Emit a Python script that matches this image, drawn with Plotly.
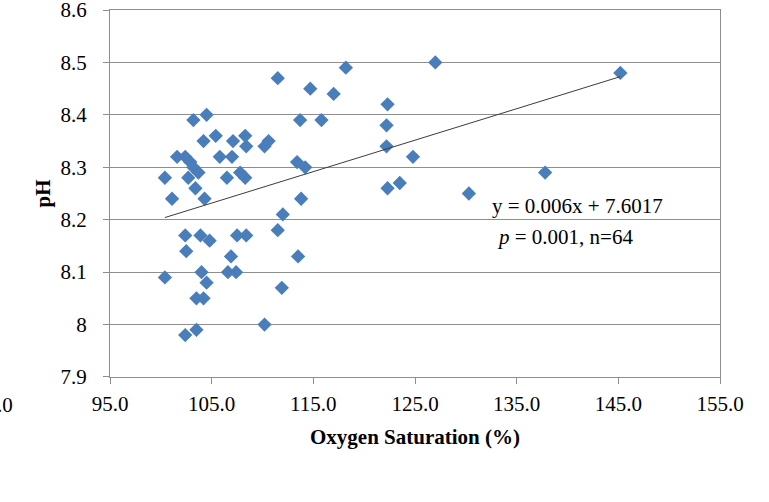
import plotly.graph_objects as go
import numpy as np

# Oxygen saturation (%) and pH for 64 samples
oxygen_sat = [
    127.0, 145.2, 122.3, 122.2, 122.2, 124.8, 122.3, 123.5, 137.8, 130.3,
    118.2, 111.5, 114.7, 117.0, 113.7, 115.8, 110.6, 110.2, 113.4, 114.2,
    113.8, 112.0, 111.5, 113.5, 111.9, 110.2,
    103.2, 104.5, 104.2, 105.4, 107.1, 108.3, 108.4,
    105.8, 107.0, 101.6, 102.4, 102.9,
    100.4, 102.7, 103.7, 106.5, 107.8, 108.3,
    103.4, 101.1, 104.3, 103.2,
    102.4, 103.9, 104.8, 102.5, 107.5, 108.4, 106.9,
    100.4, 104.0, 106.6, 107.4, 104.5, 103.5, 104.2, 102.4, 103.5,
]
ph = [
    8.50, 8.48, 8.42, 8.38, 8.34, 8.32, 8.26, 8.27, 8.29, 8.25,
    8.49, 8.47, 8.45, 8.44, 8.39, 8.39, 8.35, 8.34, 8.31, 8.30,
    8.24, 8.21, 8.18, 8.13, 8.07, 8.00,
    8.39, 8.40, 8.35, 8.36, 8.35, 8.36, 8.34,
    8.32, 8.32, 8.32, 8.32, 8.31,
    8.28, 8.28, 8.29, 8.28, 8.29, 8.28,
    8.26, 8.24, 8.24, 8.30,
    8.17, 8.17, 8.16, 8.14, 8.17, 8.17, 8.13,
    8.09, 8.10, 8.10, 8.10, 8.08, 8.05, 8.05, 7.98, 7.99,
]

# Linear trend line reported on the chart
SLOPE = 0.006
INTERCEPT = 7.6017

x_tick_vals = [95, 105, 115, 125, 135, 145, 155]
x_tick_text = ["95.0", "105.0", "115.0", "125.0", "135.0", "145.0", "155.0"]
y_tick_vals = [7.9, 8.0, 8.1, 8.2, 8.3, 8.4, 8.5, 8.6]
y_tick_text = ["7.9", "8", "8.1", "8.2", "8.3", "8.4", "8.5", "8.6"]

FONT = "Liberation Serif"
GRID = "#8E8E8E"

fig = go.Figure()

fig.add_trace(go.Scatter(
    x=oxygen_sat, y=ph, mode="markers",
    marker=dict(symbol="diamond", size=11, color="#4A7EBB", line=dict(width=0)),
    showlegend=False, hoverinfo="skip",
))

xs = np.array([min(oxygen_sat), max(oxygen_sat)])
fig.add_trace(go.Scatter(
    x=xs, y=SLOPE * xs + INTERCEPT, mode="lines",
    line=dict(color="#3C3C3C", width=1), showlegend=False, hoverinfo="skip",
))

fig.update_layout(
    width=769, height=502,
    margin=dict(l=110, r=49, t=10, b=125),
    paper_bgcolor="white", plot_bgcolor="white",
    font=dict(family=FONT, size=21, color="#000000"),
    xaxis=dict(
        range=[95, 155.00001], tickvals=x_tick_vals, ticktext=x_tick_text,
        showgrid=False, zeroline=False, automargin=False,
        showline=True, linecolor=GRID, linewidth=1, mirror=True,
        ticks="outside", ticklen=6, tickcolor=GRID, tickwidth=1,
        ticklabelstandoff=2, ticklabeloverflow="allow",
        tickfont=dict(family=FONT, size=21),
    ),
    yaxis=dict(
        range=[7.89999, 8.60001], tickvals=y_tick_vals, ticktext=y_tick_text,
        showgrid=True, gridcolor=GRID, gridwidth=1, zeroline=False, automargin=False,
        showline=True, linecolor=GRID, linewidth=1, mirror=True,
        ticks="outside", ticklen=6, tickcolor=GRID, tickwidth=1,
        ticklabelstandoff=12, ticklabeloverflow="allow",
        tickfont=dict(family=FONT, size=21),
    ),
)

# x-axis title
fig.add_annotation(
    text="<b>Oxygen Saturation (%)</b>", xref="paper", yref="paper",
    x=0.5, y=(377 - 437) / 367, xanchor="center", yanchor="middle",
    showarrow=False, font=dict(family=FONT, size=21),
)
# y-axis title
fig.add_annotation(
    text="<b>pH</b>", xref="paper", yref="paper",
    x=(42 - 110) / 610, y=0.5, xanchor="center", yanchor="middle",
    textangle=-90, showarrow=False, font=dict(family=FONT, size=21),
)
# cut-off leftmost tick label
fig.add_annotation(
    text="85.0", xref="paper", yref="paper",
    x=(15 - 110) / 610, y=(377 - 405) / 367, xanchor="right", yanchor="middle",
    showarrow=False, font=dict(family=FONT, size=21),
)
# regression equation and stats
fig.add_annotation(
    text="y = 0.006x + 7.6017", xref="x", yref="y",
    x=132.38, y=8.2267, xanchor="left", yanchor="middle",
    showarrow=False, font=dict(family=FONT, size=21),
)
fig.add_annotation(
    text="<i>p</i> = 0.001, n=64", xref="x", yref="y",
    x=132.87, y=8.1667, xanchor="left", yanchor="middle",
    showarrow=False, font=dict(family=FONT, size=21),
)

fig.write_html("out.html")
